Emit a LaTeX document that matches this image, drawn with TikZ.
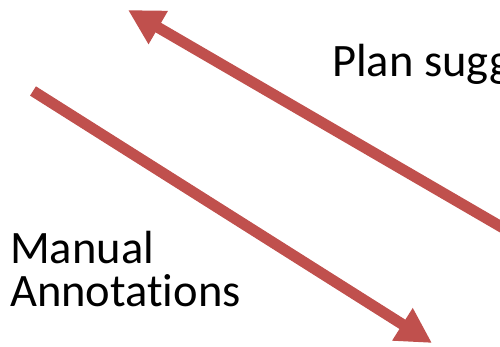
\documentclass[tikz,border=0pt]{standalone}
\usepackage{fontspec}
\setmainfont{Carlito}[Ligatures=NoCommon]
\usetikzlibrary{positioning,arrows.meta}
\definecolor{arrowred}{HTML}{C0504D}
\tikzstyle{connect} = [line width=11pt, draw=arrowred, -{Triangle[length=35pt,width=36pt]}]
\tikzstyle{textbox} = [inner sep=0pt, font=\fontsize{46.5}{43}\selectfont, align=left]

\begin{document}
\begin{tikzpicture}[x=1pt,y=-1pt]
			\useasboundingbox (0,0) rectangle (500,347);
			\clip (0,0) rectangle (500,347);
			\node (plan) [textbox,anchor=base west] at (332,77) {Plan suggestions};
			\node (manual) [textbox,anchor=base west] at (10,306) {Manual\\Annotations};
			
			\coordinate (mtail) at (33,91);
			\coordinate (mtip) at (432,343);
			\coordinate (ptail) at (560,261);
			\coordinate (ptip) at (128,10);
			
			\draw [connect] (mtail) -- (mtip);
			\draw [connect] (ptail) -- (ptip);
			\end{tikzpicture}
\end{document}
